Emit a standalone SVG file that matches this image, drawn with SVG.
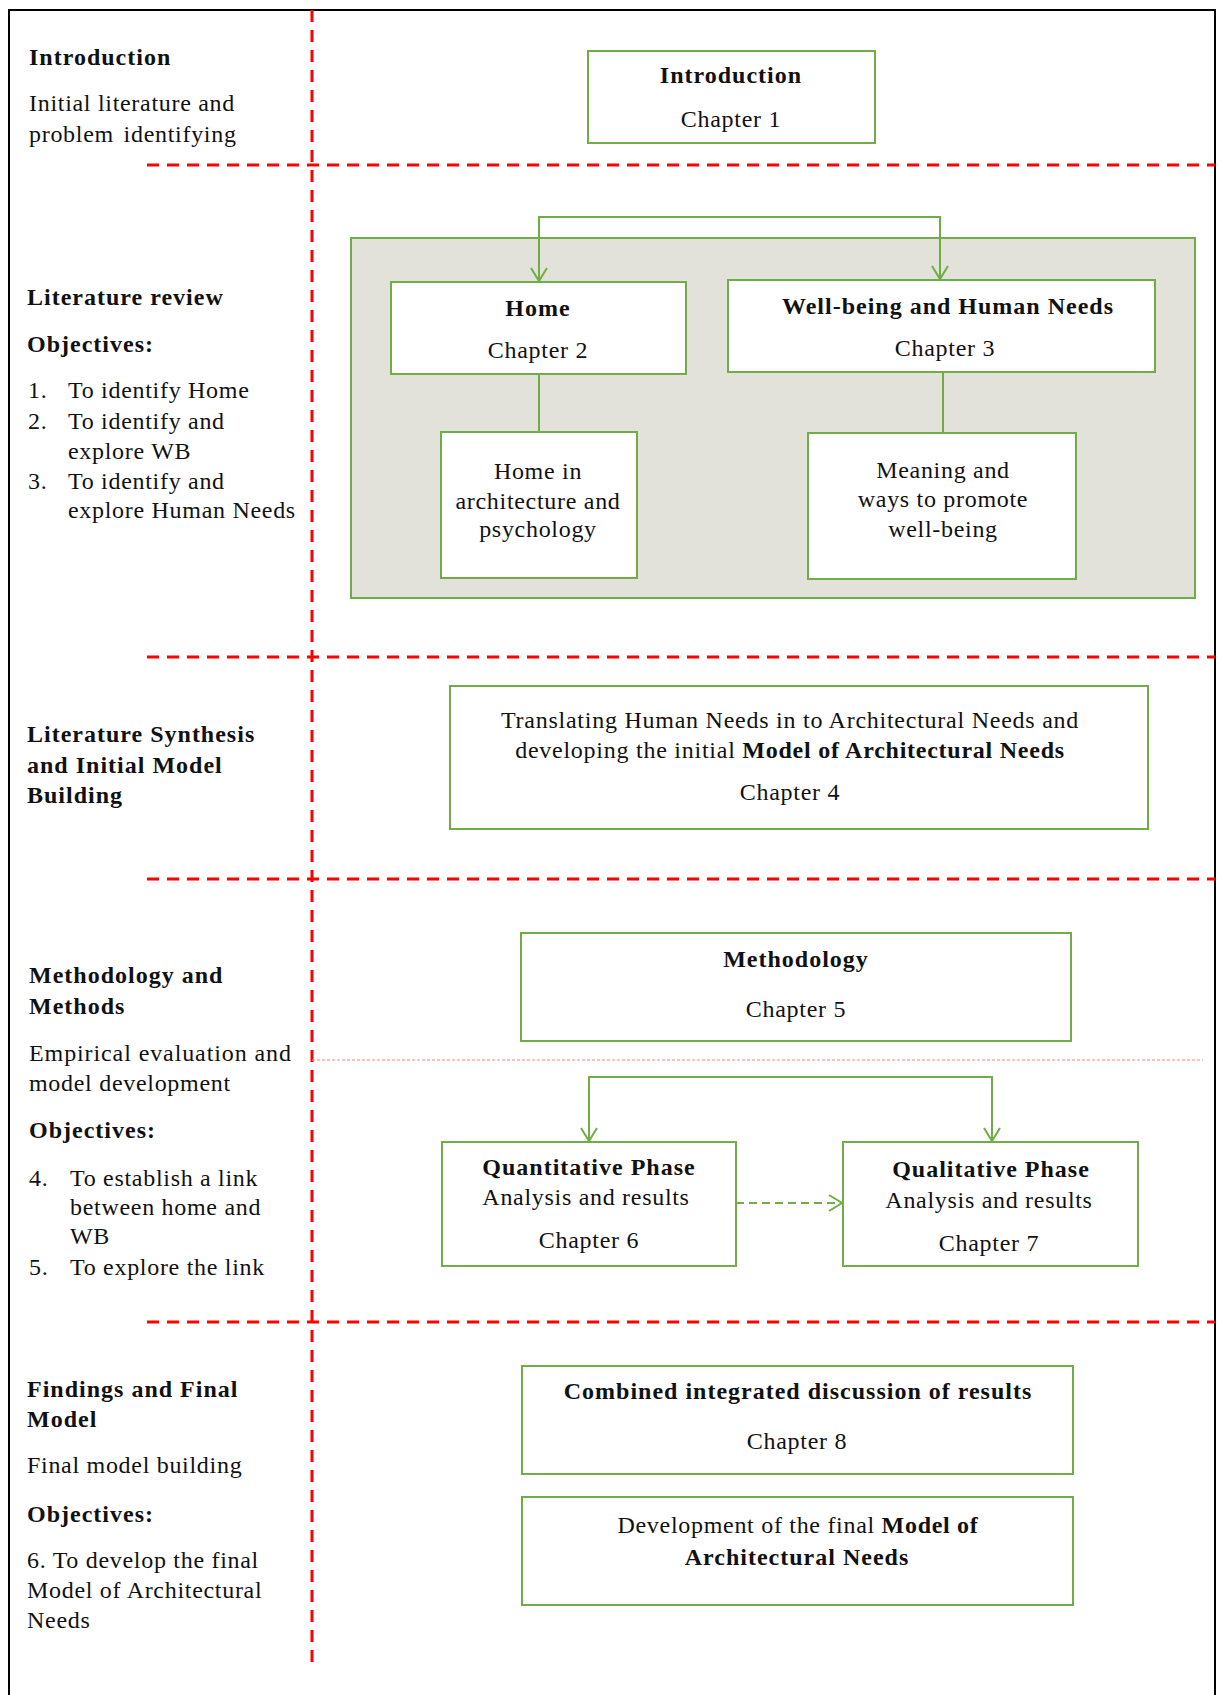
<svg xmlns="http://www.w3.org/2000/svg" width="1222" height="1695" viewBox="0 0 1222 1695">
<style>
.t{font-family:"Liberation Serif","Times New Roman",serif;font-size:24px;fill:#111;letter-spacing:0.7px}
.b{font-weight:bold;letter-spacing:1px}
.c{text-anchor:middle}
.box{fill:#fff;stroke:#70AD47;stroke-width:2}
.red{stroke:#FF0000;stroke-width:3;stroke-dasharray:12 8;fill:none}
.dot{stroke:#FF8080;stroke-width:1.2;stroke-dasharray:3 2;fill:none}
.conn{stroke:#70AD47;stroke-width:2;fill:none}
</style>
<defs>
<marker id="ah" markerUnits="userSpaceOnUse" markerWidth="20" markerHeight="20" refX="14" refY="9" orient="auto">
<path d="M1,1 L14,9 L1,17" fill="none" stroke="#70AD47" stroke-width="2"/>
</marker>
</defs>
<rect width="1222" height="1695" fill="#fff"/>
<g id="frame">
<path d="M9,1700 V10 H1215 V1700" fill="none" stroke="#000" stroke-width="2"/>
<path class="red" d="M312,10 V1665"/>
<path class="red" d="M147,165 H1215"/>
<path class="red" d="M147,657 H1215"/>
<path class="red" d="M147,879 H1215"/>
<path class="red" d="M147,1322 H1215"/>
<path class="dot" d="M312,1060 H1203"/>
</g>
<g id="left-intro" class="t">
<text x="29" y="65" class="b">Introduction</text>
<text x="29" y="111">Initial literature and</text>
<text x="29" y="142" style="word-spacing:3px">problem identifying</text>
</g>
<g id="left-litreview" class="t">
<text x="27" y="305" class="b">Literature review</text>
<text x="27" y="352" class="b">Objectives:</text>
<text x="28" y="398">1.</text><text x="68" y="398">To identify Home</text>
<text x="28" y="429">2.</text><text x="68" y="429">To identify and</text>
<text x="68" y="459">explore WB</text>
<text x="28" y="489">3.</text><text x="68" y="489">To identify and</text>
<text x="68" y="518">explore Human Needs</text>
</g>
<g id="left-synthesis" class="t">
<text x="27" y="742" class="b">Literature Synthesis</text>
<text x="27" y="773" class="b">and Initial Model</text>
<text x="27" y="803" class="b">Building</text>
</g>
<g id="left-method" class="t">
<text x="29" y="983" class="b">Methodology and</text>
<text x="29" y="1014" class="b">Methods</text>
<text x="29" y="1061" style="letter-spacing:0.9px">Empirical evaluation and</text>
<text x="29" y="1091">model development</text>
<text x="29" y="1138" class="b">Objectives:</text>
<text x="29" y="1186">4.</text><text x="70" y="1186">To establish a link</text>
<text x="70" y="1215">between home and</text>
<text x="70" y="1244">WB</text>
<text x="29" y="1275">5.</text><text x="70" y="1275">To explore the link</text>
</g>
<g id="left-findings" class="t">
<text x="27" y="1397" class="b">Findings and Final</text>
<text x="27" y="1427" class="b">Model</text>
<text x="27" y="1473">Final model building</text>
<text x="27" y="1522" class="b">Objectives:</text>
<text x="27" y="1568">6. To develop the final</text>
<text x="27" y="1598">Model of Architectural</text>
<text x="27" y="1628">Needs</text>
</g>
<g id="lit-container">
<rect x="351" y="238" width="844" height="360" fill="#E2E2DB" stroke="#70AD47" stroke-width="2"/>
</g>
<g id="connectors">
<path class="conn" d="M740,217 H539 V281" marker-end="url(#ah)"/>
<path class="conn" d="M740,217 H940 V279" marker-end="url(#ah)"/>
<path class="conn" d="M539,374 V432"/>
<path class="conn" d="M943,372 V433"/>
<path class="conn" d="M790,1077 H589 V1141" marker-end="url(#ah)"/>
<path class="conn" d="M790,1077 H992 V1141" marker-end="url(#ah)"/>
<path class="conn" d="M736,1203 H842" stroke-dasharray="8 5" marker-end="url(#ah)"/>
</g>
<g id="intro-box" class="t">
<rect class="box" x="588" y="51" width="287" height="92"/>
<text x="731" y="83" class="b c">Introduction</text>
<text x="731" y="127" class="c">Chapter 1</text>
</g>
<g id="home" class="t">
<rect class="box" x="391" y="282" width="295" height="92"/>
<text x="538" y="316" class="b c">Home</text>
<text x="538" y="358" class="c">Chapter 2</text>
</g>
<g id="wellbeing" class="t">
<rect class="box" x="728" y="280" width="427" height="92"/>
<text x="948" y="314" class="b c">Well-being and Human Needs</text>
<text x="945" y="356" class="c">Chapter 3</text>
</g>
<g id="home-sub" class="t">
<rect class="box" x="441" y="432" width="196" height="146"/>
<text x="538" y="479" class="c">Home in</text>
<text x="538" y="509" class="c">architecture and</text>
<text x="538" y="537" class="c">psychology</text>
</g>
<g id="wb-sub" class="t">
<rect class="box" x="808" y="433" width="268" height="146"/>
<text x="943" y="478" class="c">Meaning and</text>
<text x="943" y="507" class="c">ways to promote</text>
<text x="943" y="537" class="c">well-being</text>
</g>
<g id="chapter4" class="t">
<rect class="box" x="450" y="686" width="698" height="143"/>
<text x="790" y="728" class="c" style="letter-spacing:0.75px">Translating Human Needs in to Architectural Needs and</text>
<text x="790" y="758" class="c" style="letter-spacing:0.75px">developing the initial <tspan font-weight="bold">Model of Architectural Needs</tspan></text>
<text x="790" y="800" class="c">Chapter 4</text>
</g>
<g id="methodology" class="t">
<rect class="box" x="521" y="933" width="550" height="108"/>
<text x="796" y="967" class="b c">Methodology</text>
<text x="796" y="1017" class="c">Chapter 5</text>
</g>
<g id="quantitative" class="t">
<rect class="box" x="442" y="1142" width="294" height="124"/>
<text x="589" y="1175" class="b c">Quantitative Phase</text>
<text x="586" y="1205" class="c">Analysis and results</text>
<text x="589" y="1248" class="c">Chapter 6</text>
</g>
<g id="qualitative" class="t">
<rect class="box" x="843" y="1142" width="295" height="124"/>
<text x="991" y="1177" class="b c">Qualitative Phase</text>
<text x="989" y="1208" class="c">Analysis and results</text>
<text x="989" y="1251" class="c">Chapter 7</text>
</g>
<g id="chapter8" class="t">
<rect class="box" x="522" y="1366" width="551" height="108"/>
<text x="798" y="1399" class="b c">Combined integrated discussion of results</text>
<text x="797" y="1449" class="c">Chapter 8</text>
</g>
<g id="final-model" class="t">
<rect class="box" x="522" y="1497" width="551" height="108"/>
<text x="798" y="1533" class="c">Development of the final <tspan font-weight="bold">Model of</tspan></text>
<text x="797" y="1565" class="b c">Architectural Needs</text>
</g>
</svg>
